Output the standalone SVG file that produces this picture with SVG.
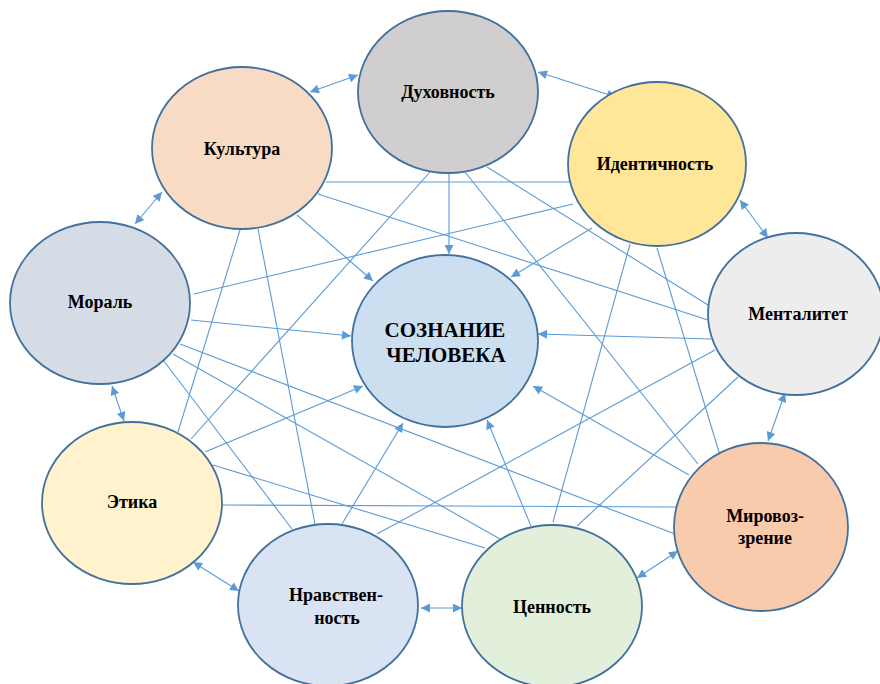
<svg xmlns="http://www.w3.org/2000/svg" width="880" height="684" viewBox="0 0 880 684">
<style>
.n{stroke:#41719C;stroke-width:1.8}
.t{font-weight:bold;font-size:18px;fill:#000;text-anchor:middle}
.c{font-size:21px}
.l{stroke:#5B9BD5;stroke-width:1.1;fill:none}
.a{marker-end:url(#ah)}
.b{marker-start:url(#ah);marker-end:url(#ah)}
</style>
<defs>
<marker id="ah" viewBox="0 0 10 10" refX="10" refY="5" markerWidth="10" markerHeight="9" markerUnits="userSpaceOnUse" orient="auto-start-reverse">
<path d="M0,0 L10,5 L0,10 z" fill="#5B9BD5"/>
</marker>
</defs>
<rect width="880" height="684" fill="#fff"/>
<g id="connectors">
<line class="l" x1="326" y1="182" x2="572" y2="182"/>
<line class="l" x1="318" y1="194" x2="708" y2="320"/>
<line class="l" x1="240" y1="230" x2="178" y2="432"/>
<line class="l" x1="258" y1="229" x2="315" y2="524"/>
<line class="l" x1="430" y1="172" x2="191" y2="439"/>
<line class="l" x1="487" y1="167" x2="708" y2="305"/>
<line class="l" x1="465" y1="172" x2="698" y2="464"/>
<line class="l" x1="573" y1="204" x2="194" y2="294"/>
<line class="l" x1="630" y1="244" x2="553" y2="522"/>
<line class="l" x1="657" y1="248" x2="719" y2="452"/>
<line class="l" x1="180" y1="344" x2="675" y2="534"/>
<line class="l" x1="173" y1="354" x2="500" y2="539"/>
<line class="l" x1="163" y1="360" x2="292" y2="529"/>
<line class="l" x1="715" y1="350" x2="377" y2="534"/>
<line class="l" x1="738" y1="377" x2="577" y2="526"/>
<line class="l" x1="213" y1="465" x2="485" y2="548"/>
<line class="l" x1="223" y1="505" x2="677" y2="507"/>
<line class="l a" x1="449" y1="173" x2="449" y2="254"/>
<line class="l a" x1="297" y1="215" x2="373" y2="281"/>
<line class="l a" x1="191" y1="320" x2="351" y2="336"/>
<line class="l a" x1="592" y1="228" x2="511" y2="277"/>
<line class="l a" x1="711" y1="339" x2="538" y2="334"/>
<line class="l a" x1="689" y1="475" x2="533" y2="386"/>
<line class="l a" x1="531" y1="526" x2="487" y2="420"/>
<line class="l a" x1="342" y1="524" x2="403" y2="423"/>
<line class="l a" x1="205" y1="452" x2="363" y2="386"/>
<line class="l b" x1="310" y1="92" x2="358" y2="75"/>
<line class="l b" x1="538" y1="72" x2="616" y2="97"/>
<line class="l b" x1="740" y1="200" x2="768" y2="238"/>
<line class="l b" x1="785" y1="393" x2="768" y2="441"/>
<line class="l b" x1="678" y1="551" x2="637" y2="578"/>
<line class="l b" x1="421" y1="608" x2="462" y2="608"/>
<line class="l b" x1="193" y1="562" x2="239" y2="591"/>
<line class="l b" x1="112" y1="386" x2="124" y2="421"/>
<line class="l b" x1="135" y1="224" x2="162" y2="192"/>
</g>
<g font-family="Liberation Serif, DejaVu Serif, serif">
<g id="dukhovnost"><ellipse class="n" cx="448" cy="92" rx="90" ry="81" fill="#D0CECE"/><text class="t" x="448" y="98">Духовность</text></g>
<g id="kultura"><ellipse class="n" cx="242" cy="148" rx="90" ry="81" fill="#F8DBC5"/><text class="t" x="242" y="155">Культура</text></g>
<g id="identichnost"><ellipse class="n" cx="657" cy="164" rx="89" ry="82" fill="#FFE699"/><text class="t" x="655" y="170">Идентичность</text></g>
<g id="moral"><ellipse class="n" cx="100" cy="303" rx="90" ry="81" fill="#D6DCE5"/><text class="t" x="100" y="308">Мораль</text></g>
<g id="mentalitet"><ellipse class="n" cx="796" cy="314" rx="88" ry="81" fill="#EDEDED"/><text class="t" x="798" y="320">Менталитет</text></g>
<g id="soznanie"><ellipse class="n" cx="445" cy="341" rx="93" ry="86" fill="#CCDFF1"/><text class="t c" x="445" y="337">СОЗНАНИЕ</text><text class="t c" x="446" y="362">ЧЕЛОВЕКА</text></g>
<g id="etika"><ellipse class="n" cx="132" cy="503" rx="90" ry="81" fill="#FFF2CC"/><text class="t" x="132" y="508">Этика</text></g>
<g id="mirovozzrenie"><ellipse class="n" cx="761" cy="527" rx="87" ry="84" fill="#F8CBAD"/><text class="t" x="765" y="522">Мировоз-</text><text class="t" x="765" y="544">зрение</text></g>
<g id="nravstvennost"><ellipse class="n" cx="328" cy="605" rx="90" ry="81" fill="#DAE3F3"/><text class="t" x="336" y="601">Нравствен-</text><text class="t" x="337" y="624">ность</text></g>
<g id="tsennost"><ellipse class="n" cx="552" cy="606" rx="90" ry="81" fill="#E2EFDA"/><text class="t" x="552" y="613">Ценность</text></g>
</g>
</svg>
